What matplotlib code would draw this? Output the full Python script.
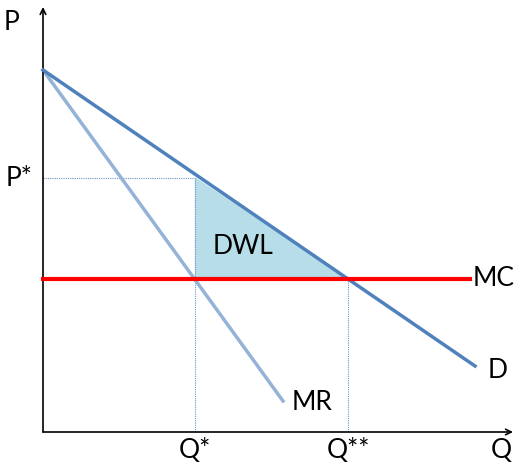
import numpy as np
import matplotlib.pyplot as plt

# curve end points (quantity, price)
demand_q = [0, 432]
demand_p = [362, 66]
mr_q = [0, 240]
mr_p = [362, 31]
mc_q = [0, 427]
mc_p = [153, 153]
q_star, q_2star, p_star = 152, 305, 254

plt.rcParams['font.family'] = ['Lato', 'DejaVu Sans']

fig = plt.figure(figsize=(5.17, 4.67), dpi=100)
ax = fig.add_axes([0, 0, 1, 1])
ax.set_xlim(-43, 474)
ax.set_ylim(-35, 432)
ax.axis('off')

# axes with arrows
ax.annotate('', xy=(0, 425), xytext=(0, 0),
            arrowprops=dict(arrowstyle='->', lw=1.2, color='black', shrinkA=0, shrinkB=0))
ax.annotate('', xy=(470, 0), xytext=(0, 0),
            arrowprops=dict(arrowstyle='->', lw=1.2, color='black', shrinkA=0, shrinkB=0))

# DWL triangle
ax.fill([q_star, q_star, q_2star], [p_star, mc_p[0], mc_p[0]], color='#b7dde8', zorder=1)

# dotted guides
guide = dict(color='#6f94c8', lw=0.8, ls=(0, (1, 1)), zorder=1)
ax.plot([0, q_star], [p_star, p_star], **guide)
ax.plot([q_star, q_star], [0, p_star], **guide)
ax.plot([q_2star, q_2star], [0, mc_p[0]], **guide)

ax.plot(mr_q, mr_p, color='#95b3d7', lw=2.5, zorder=2)
ax.plot(demand_q, demand_p, color='#4f81bd', lw=2.5, zorder=3)
ax.plot(mc_q, mc_p, color='#ff0000', lw=3, zorder=4)

fs = 19
ax.text(-31, 410, 'P', fontsize=fs, ha='center', va='center')
ax.text(458, -19, 'Q', fontsize=fs, ha='center', va='center')
ax.text(-24, 254, 'P*', fontsize=fs, ha='center', va='center')
ax.text(q_star, -19, 'Q*', fontsize=fs, ha='center', va='center')
ax.text(q_2star, -19, 'Q**', fontsize=fs, ha='center', va='center')
ax.text(451, 153, 'MC', fontsize=fs, ha='center', va='center')
ax.text(455, 62, 'D', fontsize=fs, ha='center', va='center')
ax.text(269, 30, 'MR', fontsize=fs, ha='center', va='center')
ax.text(200, 186, 'DWL', fontsize=fs, ha='center', va='center')

fig.savefig('out.png', dpi=100)
